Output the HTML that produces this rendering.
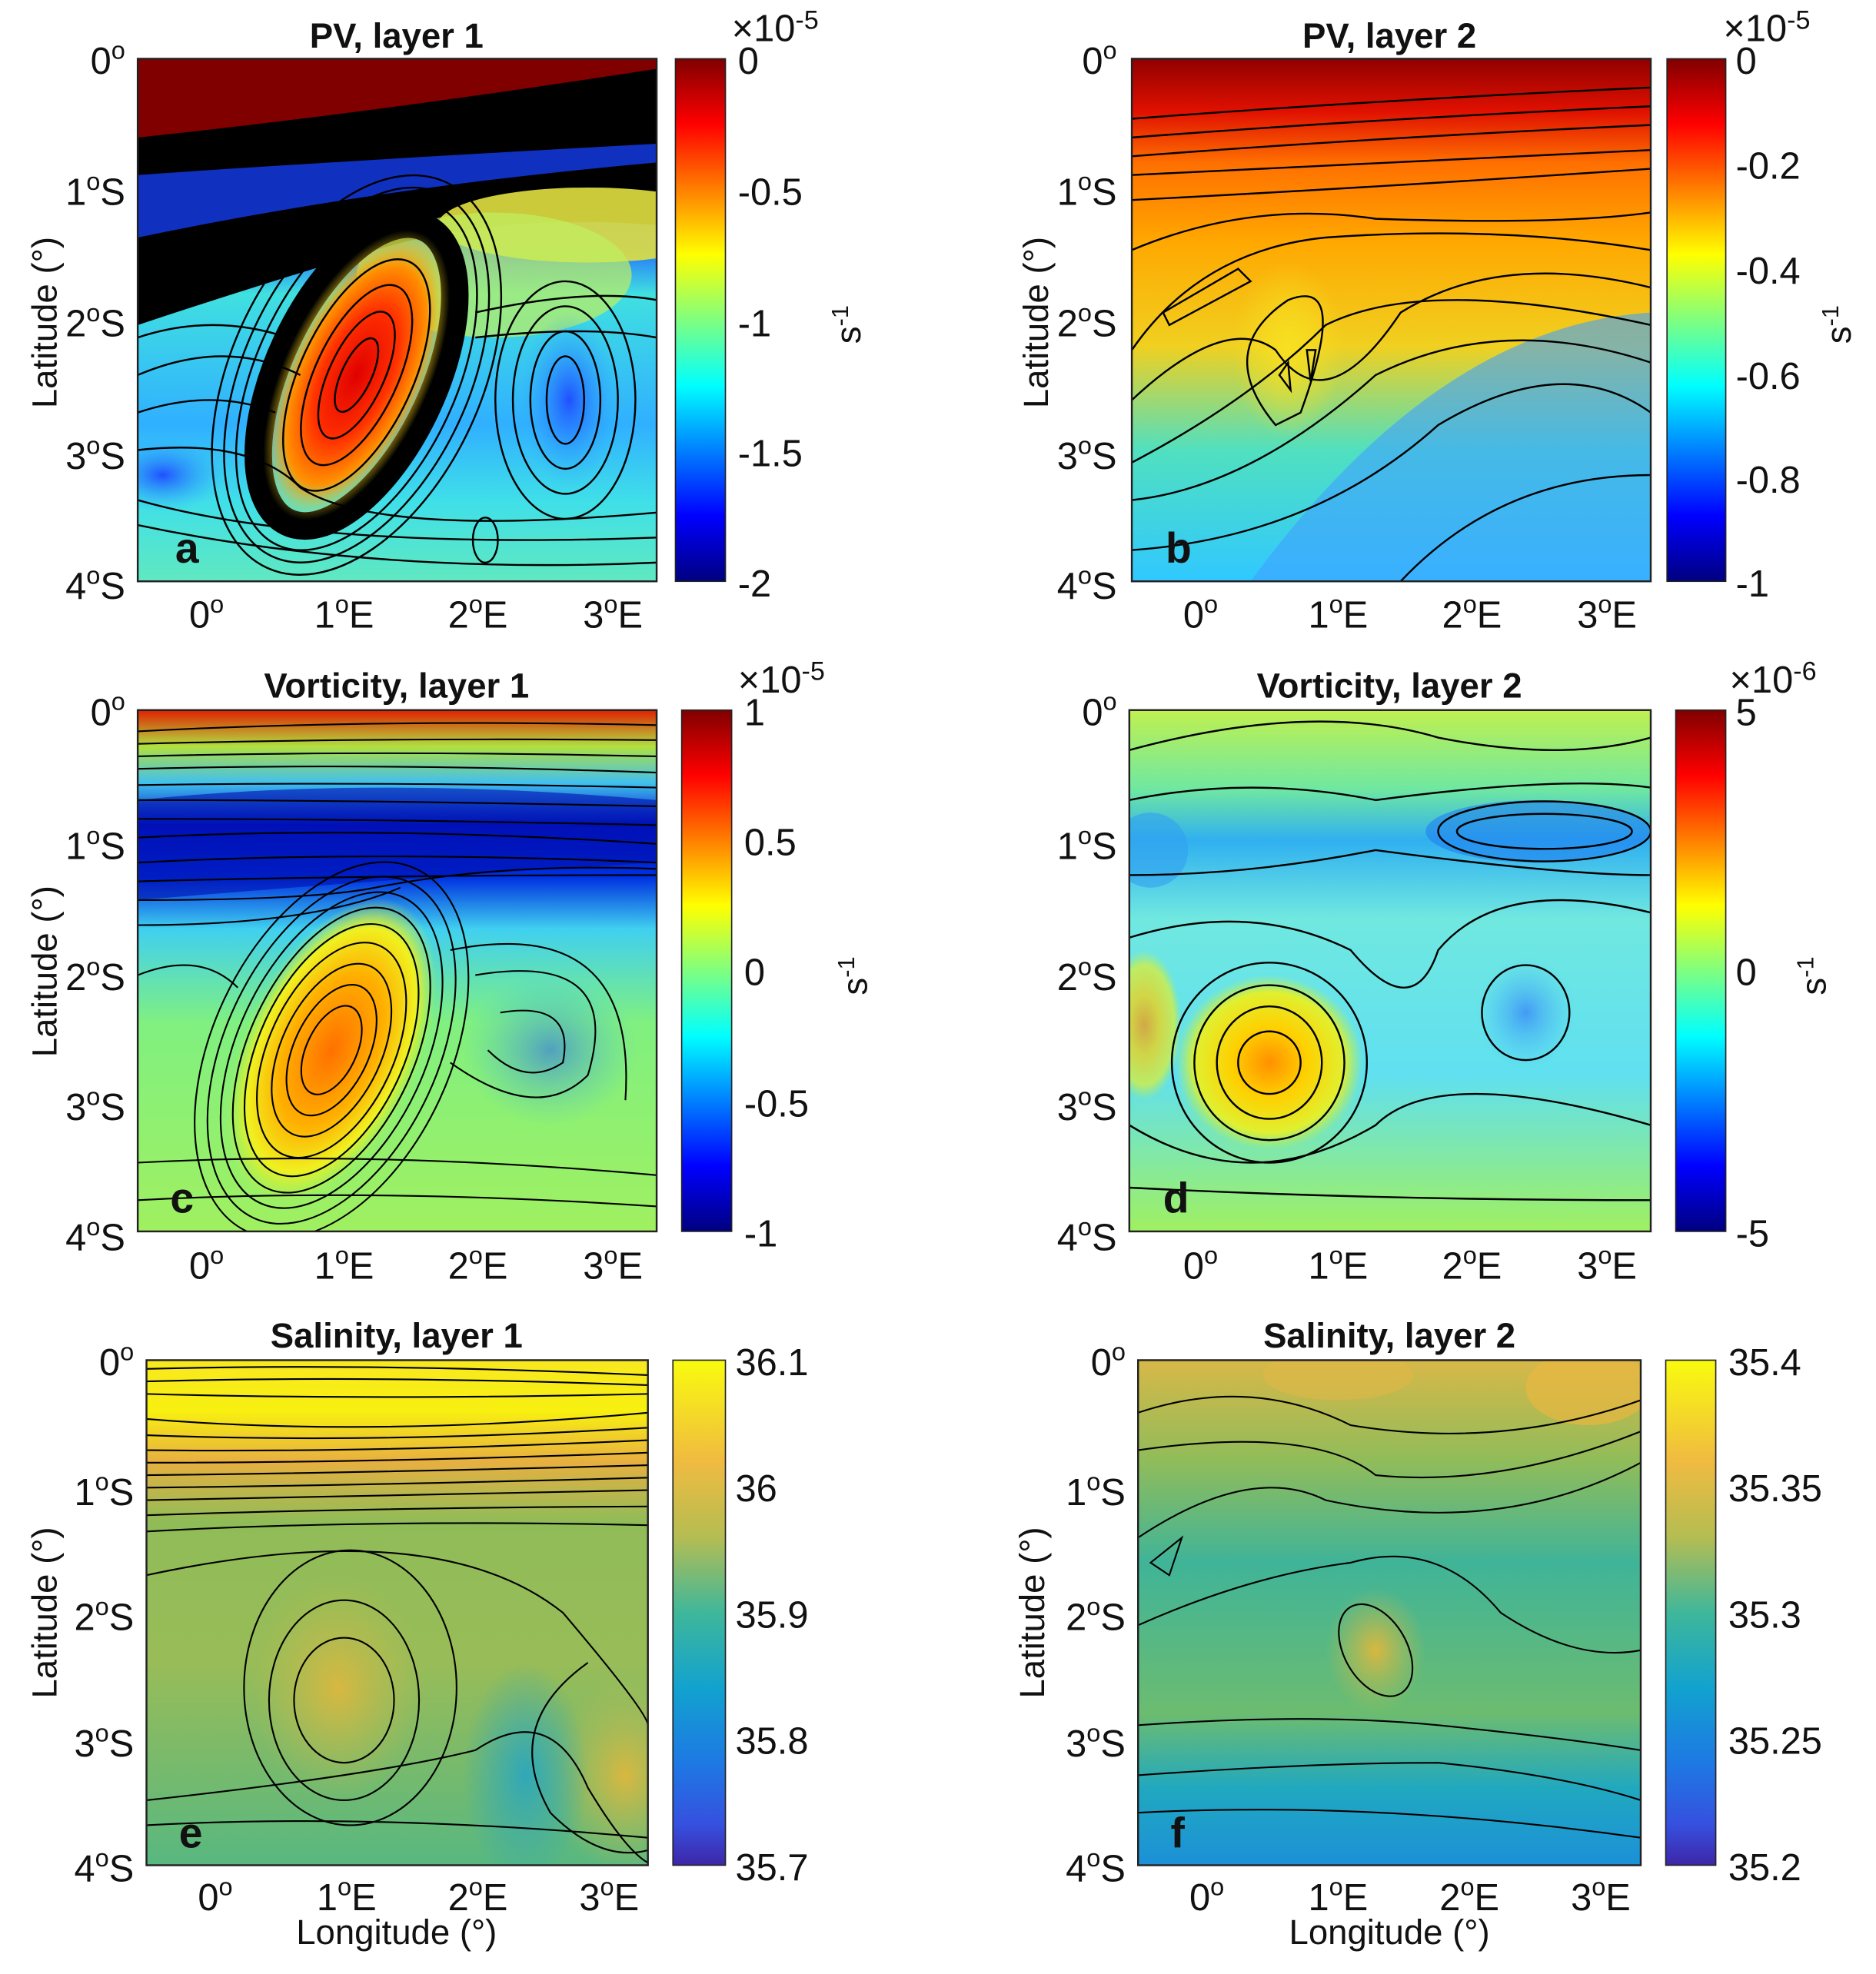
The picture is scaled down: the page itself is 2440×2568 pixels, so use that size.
<!DOCTYPE html>
<html><head><meta charset="utf-8"><style>html,body{margin:0;padding:0;background:#fff}svg{display:block}text{font-family:"Liberation Sans",sans-serif;fill:#111}</style></head><body>
<svg width="2440" height="2568" viewBox="0 0 1500 1579" xmlns="http://www.w3.org/2000/svg">
<defs>
<linearGradient id="jet" x1="0" y1="0" x2="0" y2="1"><stop offset="0" stop-color="#800000"/><stop offset=".125" stop-color="#ff0000"/><stop offset=".375" stop-color="#ffff00"/><stop offset=".625" stop-color="#00ffff"/><stop offset=".875" stop-color="#0000ff"/><stop offset="1" stop-color="#000080"/></linearGradient>
<linearGradient id="par" x1="0" y1="0" x2="0" y2="1"><stop offset="0" stop-color="#f9fb0e"/><stop offset=".2" stop-color="#f0bb40"/><stop offset=".35" stop-color="#b5bd52"/><stop offset=".5" stop-color="#3fb79a"/><stop offset=".65" stop-color="#12a2cf"/><stop offset=".8" stop-color="#1e78e4"/><stop offset=".92" stop-color="#3650df"/><stop offset="1" stop-color="#3e26a8"/></linearGradient>
<linearGradient id="ga" gradientUnits="userSpaceOnUse" x1="0" y1="47" x2="0" y2="465"><stop offset="0" stop-color="#8a0000"/><stop offset=".12" stop-color="#900000"/><stop offset=".2" stop-color="#1020b0"/><stop offset=".35" stop-color="#2060ff"/><stop offset=".45" stop-color="#40e0e0"/><stop offset=".7" stop-color="#30b0ff"/><stop offset=".85" stop-color="#40e0e8"/><stop offset="1" stop-color="#60e8c0"/></linearGradient>
<linearGradient id="gb" gradientUnits="userSpaceOnUse" x1="0" y1="47" x2="0" y2="465"><stop offset="0" stop-color="#900000"/><stop offset=".1" stop-color="#e01000"/><stop offset=".2" stop-color="#ff7000"/><stop offset=".35" stop-color="#ffa800"/><stop offset=".55" stop-color="#f0d020"/><stop offset=".75" stop-color="#50e0c0"/><stop offset="1" stop-color="#30c8ff"/></linearGradient>
<linearGradient id="gc" gradientUnits="userSpaceOnUse" x1="0" y1="568" x2="0" y2="985"><stop offset="0" stop-color="#e02000"/><stop offset=".07" stop-color="#b0e040"/><stop offset=".14" stop-color="#40c0f0"/><stop offset=".22" stop-color="#0010c0"/><stop offset=".32" stop-color="#0030e0"/><stop offset=".42" stop-color="#40d0f0"/><stop offset=".6" stop-color="#80f080"/><stop offset="1" stop-color="#a0f060"/></linearGradient>
<linearGradient id="gd" gradientUnits="userSpaceOnUse" x1="0" y1="568" x2="0" y2="985"><stop offset="0" stop-color="#c0f050"/><stop offset=".15" stop-color="#70e8a0"/><stop offset=".25" stop-color="#30b0f0"/><stop offset=".4" stop-color="#70e8e0"/><stop offset=".7" stop-color="#60e0f0"/><stop offset="1" stop-color="#a0f060"/></linearGradient>
<linearGradient id="ge" gradientUnits="userSpaceOnUse" x1="0" y1="1088" x2="0" y2="1492"><stop offset="0" stop-color="#f8e820"/><stop offset=".1" stop-color="#f8f010"/><stop offset=".2" stop-color="#e8b040"/><stop offset=".32" stop-color="#90bc58"/><stop offset=".6" stop-color="#98bc58"/><stop offset="1" stop-color="#58b880"/></linearGradient>
<linearGradient id="gf" gradientUnits="userSpaceOnUse" x1="0" y1="1088" x2="0" y2="1492"><stop offset="0" stop-color="#d8b848"/><stop offset=".2" stop-color="#90bc5a"/><stop offset=".4" stop-color="#40b498"/><stop offset=".7" stop-color="#6cbc70"/><stop offset=".85" stop-color="#20a8c0"/><stop offset="1" stop-color="#1c90d8"/></linearGradient>
<radialGradient id="ra"><stop offset="0" stop-color="#e00000"/><stop offset=".45" stop-color="#ff3000"/><stop offset=".75" stop-color="#ff9000"/><stop offset="1" stop-color="#f0e020" stop-opacity="0"/></radialGradient>
<radialGradient id="rc"><stop offset="0" stop-color="#ff7000"/><stop offset=".5" stop-color="#ffb000"/><stop offset=".8" stop-color="#f0f020"/><stop offset="1" stop-color="#c0f040" stop-opacity="0"/></radialGradient>
<radialGradient id="rd"><stop offset="0" stop-color="#ff9000"/><stop offset=".4" stop-color="#ffd000"/><stop offset=".8" stop-color="#e0f030"/><stop offset="1" stop-color="#c0f040" stop-opacity="0"/></radialGradient>
<radialGradient id="rb"><stop offset="0" stop-color="#2050ff"/><stop offset="1" stop-color="#30b0ff" stop-opacity="0"/></radialGradient>
<radialGradient id="ry"><stop offset="0" stop-color="#f8e020"/><stop offset="1" stop-color="#f8e020" stop-opacity="0"/></radialGradient>
<radialGradient id="rs"><stop offset="0" stop-color="#d8b840"/><stop offset="1" stop-color="#b8bc50" stop-opacity="0"/></radialGradient>
<radialGradient id="rt"><stop offset="0" stop-color="#30a8b8"/><stop offset="1" stop-color="#30a8b8" stop-opacity="0"/></radialGradient>
<clipPath id="ca"><rect x="110" y="47" width="415" height="418"/></clipPath>
<clipPath id="cb"><rect x="905" y="47" width="415" height="418"/></clipPath>
<clipPath id="cc"><rect x="110" y="568" width="415" height="417"/></clipPath>
<clipPath id="cd"><rect x="903" y="568" width="417" height="417"/></clipPath>
<clipPath id="ce"><rect x="117" y="1088" width="401" height="404"/></clipPath>
<clipPath id="cf"><rect x="910" y="1088" width="402" height="404"/></clipPath>
</defs>

<!-- Panel a -->
<g clip-path="url(#ca)">
<rect x="110" y="47" width="415" height="418" fill="url(#ga)"/>
<path d="M110 47 L525 47 L525 70 Q300 90 110 115 Z" fill="#800000"/>
<path d="M110 110 Q300 90 525 55 L525 180 Q400 170 300 200 Q200 230 110 260 Z" fill="#000"/>
<path d="M110 140 Q250 130 525 115 L525 130 Q300 150 110 190 Z" fill="#1030c0"/>
<ellipse cx="470" cy="180" rx="120" ry="30" fill="#e0e040" opacity=".9"/>
<ellipse cx="395" cy="220" rx="110" ry="50" fill="#c0f060" opacity=".7"/>
<g transform="rotate(25 285 300)"><ellipse cx="285" cy="300" rx="62" ry="130" fill="none" stroke="#000" stroke-width="22"/><ellipse cx="285" cy="300" rx="58" ry="125" fill="url(#ra)"/>
<g fill="none" stroke="#000" stroke-width="1.5"><ellipse cx="285" cy="300" rx="45" ry="100"/><ellipse cx="285" cy="300" rx="33" ry="78"/><ellipse cx="285" cy="300" rx="22" ry="55"/><ellipse cx="285" cy="300" rx="12" ry="32"/><ellipse cx="285" cy="300" rx="80" ry="150"/><ellipse cx="285" cy="300" rx="90" ry="160"/><ellipse cx="285" cy="300" rx="100" ry="170"/></g></g>
<ellipse cx="455" cy="320" rx="40" ry="70" fill="url(#rb)"/>
<ellipse cx="130" cy="380" rx="50" ry="30" fill="url(#rb)"/>
<g fill="none" stroke="#000" stroke-width="1.5"><ellipse cx="452" cy="320" rx="15" ry="35"/><ellipse cx="452" cy="320" rx="28" ry="55"/><ellipse cx="452" cy="320" rx="42" ry="75"/><ellipse cx="452" cy="320" rx="56" ry="95"/>
<path d="M110 400 Q250 440 525 430"/><path d="M110 420 Q300 460 525 450"/><path d="M110 300 Q180 270 240 300"/><path d="M110 330 Q170 310 220 330"/><path d="M110 270 Q170 250 230 270"/><path d="M110 360 Q200 350 240 390 Q300 430 525 410"/><path d="M380 250 Q470 230 525 240"/><path d="M380 270 Q470 260 525 270"/><ellipse cx="388" cy="432" rx="10" ry="18"/></g>
</g>
<rect x="110" y="47" width="415" height="418" fill="none" stroke="#222" stroke-width="1.5"/>
<text x="140" y="450" font-size="34" font-weight="bold" fill="#000">a</text>

<!-- Panel b -->
<g clip-path="url(#cb)">
<rect x="905" y="47" width="415" height="418" fill="url(#gb)"/>
<path d="M1000 465 Q1150 260 1320 250 L1320 465 Z" fill="#40a0ff" opacity=".6"/>
<ellipse cx="1030" cy="280" rx="45" ry="70" fill="url(#ry)"/>
<g fill="none" stroke="#000" stroke-width="1.5"><path d="M905 95 Q1100 80 1320 70"/><path d="M905 110 Q1100 95 1320 85"/><path d="M905 125 Q1100 110 1320 100"/><path d="M905 140 Q1100 130 1320 120"/><path d="M905 160 Q1100 150 1320 135"/><path d="M905 200 Q1000 160 1100 175 Q1250 180 1320 170"/><path d="M905 280 Q960 200 1060 190 Q1200 180 1320 200"/><path d="M905 320 Q980 250 1020 280 Q1060 340 1120 250 Q1200 200 1320 230"/><path d="M905 370 Q1000 320 1060 260 Q1140 220 1320 260"/><path d="M905 400 Q1000 390 1100 300 Q1200 250 1320 290"/><path d="M905 440 Q1050 430 1150 340 Q1250 280 1320 330"/><path d="M1120 465 Q1200 380 1320 380"/><path d="M930 250 L990 215 L1000 225 L935 260 Z"/><path d="M1023 300 L1030 290 L1032 312 Z"/><path d="M1045 280 L1052 280 L1048 305 Z"/><path d="M1020 340 Q970 280 1030 240 Q1080 220 1040 330 Z"/></g>
</g>
<rect x="905" y="47" width="415" height="418" fill="none" stroke="#222" stroke-width="1.5"/>
<text x="932" y="450" font-size="34" font-weight="bold" fill="#000">b</text>

<!-- Panel c -->
<g clip-path="url(#cc)">
<rect x="110" y="568" width="415" height="417" fill="url(#gc)"/>
<path d="M110 640 Q300 620 525 640 L525 690 Q350 700 110 720 Z" fill="#0010b0" opacity=".6"/>
<g transform="rotate(25 265 840)"><ellipse cx="265" cy="840" rx="70" ry="130" fill="url(#rc)"/>
<g fill="none" stroke="#000" stroke-width="1.3"><ellipse cx="265" cy="840" rx="20" ry="38"/><ellipse cx="265" cy="840" rx="30" ry="56"/><ellipse cx="265" cy="840" rx="40" ry="74"/><ellipse cx="265" cy="840" rx="50" ry="92"/><ellipse cx="265" cy="840" rx="58" ry="108"/><ellipse cx="265" cy="840" rx="66" ry="122"/><ellipse cx="265" cy="840" rx="75" ry="135"/><ellipse cx="265" cy="840" rx="85" ry="148"/><ellipse cx="265" cy="840" rx="95" ry="160"/></g></g>
<ellipse cx="440" cy="840" rx="70" ry="60" fill="url(#rb)" opacity=".5"/>
<g fill="none" stroke="#000" stroke-width="1.3"><path d="M110 585 Q300 575 525 580"/><path d="M110 595 Q300 590 525 592"/><path d="M110 605 Q300 600 525 605"/><path d="M110 615 Q300 610 525 618"/><path d="M110 628 Q300 625 525 630"/><path d="M110 640 Q300 640 525 645"/><path d="M110 655 Q300 655 525 660"/><path d="M110 670 Q300 660 525 675"/><path d="M110 690 Q300 680 525 690"/><path d="M110 705 Q300 700 525 700"/><path d="M110 720 Q250 720 300 710 Q400 690 525 695"/><path d="M110 740 Q250 740 320 710"/><path d="M110 780 Q160 760 190 790"/><path d="M110 930 Q300 920 525 940"/><path d="M110 960 Q300 950 525 965"/><path d="M380 780 Q500 760 470 860 Q430 900 360 850"/><path d="M360 760 Q510 730 500 880"/><path d="M400 810 Q460 800 450 850 Q420 870 390 840"/></g>
</g>
<rect x="110" y="568" width="415" height="417" fill="none" stroke="#222" stroke-width="1.5"/>
<text x="136" y="970" font-size="34" font-weight="bold" fill="#000">c</text>

<!-- Panel d -->
<g clip-path="url(#cd)">
<rect x="903" y="568" width="417" height="417" fill="url(#gd)"/>
<ellipse cx="1230" cy="665" rx="90" ry="25" fill="#2080f0" opacity=".6"/>
<ellipse cx="920" cy="680" rx="30" ry="30" fill="#30a0f0" opacity=".6"/>
<ellipse cx="1220" cy="810" rx="40" ry="45" fill="url(#rb)" opacity=".5"/>
<ellipse cx="1015" cy="850" rx="75" ry="70" fill="url(#rd)"/>
<ellipse cx="915" cy="820" rx="30" ry="60" fill="url(#rd)" opacity=".7"/>
<g fill="none" stroke="#000" stroke-width="1.5"><ellipse cx="1015" cy="850" rx="25" ry="25"/><ellipse cx="1015" cy="850" rx="42" ry="45"/><ellipse cx="1015" cy="850" rx="60" ry="62"/><ellipse cx="1015" cy="850" rx="78" ry="80"/><ellipse cx="1220" cy="810" rx="35" ry="38"/><ellipse cx="1235" cy="665" rx="70" ry="14"/><ellipse cx="1235" cy="665" rx="85" ry="24"/><path d="M903 600 Q1050 560 1150 590 Q1250 610 1320 590"/><path d="M903 640 Q1000 620 1100 640 Q1250 620 1320 630"/><path d="M903 700 Q1000 700 1100 680 Q1250 700 1320 700"/><path d="M903 750 Q1000 720 1080 760 Q1130 820 1150 760 Q1200 700 1320 730"/><path d="M903 900 Q1000 960 1100 900 Q1150 850 1320 900"/><path d="M903 950 Q1100 960 1320 960"/></g>
</g>
<rect x="903" y="568" width="417" height="417" fill="none" stroke="#222" stroke-width="1.5"/>
<text x="930" y="970" font-size="34" font-weight="bold" fill="#000">d</text>

<!-- Panel e -->
<g clip-path="url(#ce)">
<rect x="117" y="1088" width="401" height="404" fill="url(#ge)"/>
<ellipse cx="270" cy="1350" rx="70" ry="90" fill="url(#rs)"/>
<ellipse cx="500" cy="1420" rx="60" ry="80" fill="url(#rs)"/>
<ellipse cx="420" cy="1420" rx="50" ry="90" fill="url(#rt)"/>
<g fill="none" stroke="#000" stroke-width="1.3"><path d="M117 1095 Q300 1090 518 1100"/><path d="M117 1105 Q300 1100 518 1108"/><path d="M117 1115 Q300 1120 518 1115"/><path d="M117 1135 Q300 1150 518 1130"/><path d="M117 1148 Q300 1155 518 1142"/><path d="M117 1160 Q300 1162 518 1152"/><path d="M117 1170 Q300 1170 518 1162"/><path d="M117 1180 Q300 1178 518 1172"/><path d="M117 1190 Q300 1188 518 1182"/><path d="M117 1200 Q300 1196 518 1192"/><path d="M117 1212 Q300 1206 518 1205"/><path d="M117 1225 Q300 1215 518 1220"/><ellipse cx="275" cy="1360" rx="40" ry="50"/><ellipse cx="275" cy="1360" rx="60" ry="80"/><ellipse cx="280" cy="1350" rx="85" ry="110"/><path d="M117 1260 Q350 1210 450 1290 Q518 1370 518 1380"/><path d="M117 1440 Q300 1420 380 1400 Q440 1360 470 1430 Q500 1480 518 1490"/><path d="M117 1460 Q300 1450 518 1470"/><path d="M470 1330 Q400 1380 440 1450 Q480 1490 518 1480"/></g>
</g>
<rect x="117" y="1088" width="401" height="404" fill="none" stroke="#222" stroke-width="1.5"/>
<text x="143" y="1478" font-size="34" font-weight="bold" fill="#000">e</text>

<!-- Panel f -->
<g clip-path="url(#cf)">
<rect x="910" y="1088" width="402" height="404" fill="url(#gf)"/>
<ellipse cx="1100" cy="1320" rx="40" ry="50" fill="url(#rs)"/>
<ellipse cx="1270" cy="1110" rx="50" ry="30" fill="#e8b840" opacity=".7"/>
<ellipse cx="1070" cy="1100" rx="60" ry="20" fill="#e0b848" opacity=".6"/>
<g fill="none" stroke="#000" stroke-width="1.3"><path d="M910 1130 Q1000 1100 1080 1140 Q1200 1160 1312 1120"/><path d="M910 1160 Q1050 1140 1100 1180 Q1200 1190 1312 1145"/><path d="M910 1230 Q1000 1170 1060 1200 Q1200 1230 1312 1170"/><path d="M910 1300 Q1000 1260 1080 1250 Q1150 1230 1200 1290 Q1260 1330 1312 1320"/><ellipse cx="1100" cy="1320" rx="25" ry="40" transform="rotate(-30 1100 1320)"/><path d="M910 1380 Q1050 1370 1150 1380 Q1250 1390 1312 1400"/><path d="M910 1420 Q1050 1410 1150 1410 Q1250 1420 1312 1440"/><path d="M910 1450 Q1100 1440 1312 1470"/><path d="M920 1250 L945 1230 L935 1260 Z"/></g>
</g>
<rect x="910" y="1088" width="402" height="404" fill="none" stroke="#222" stroke-width="1.5"/>
<text x="936" y="1478" font-size="34" font-weight="bold" fill="#000">f</text>

<!-- colorbars -->
<rect x="540" y="47" width="40" height="418" fill="url(#jet)" stroke="#222"/>
<rect x="1333" y="47" width="47" height="418" fill="url(#jet)" stroke="#222"/>
<rect x="545" y="568" width="40" height="417" fill="url(#jet)" stroke="#222"/>
<rect x="1340" y="568" width="40" height="417" fill="url(#jet)" stroke="#222"/>
<rect x="538" y="1088" width="42" height="404" fill="url(#par)" stroke="#222"/>
<rect x="1332" y="1088" width="40" height="404" fill="url(#par)" stroke="#222"/>

<g font-size="30">
<text x="590" y="59">0</text><text x="590" y="164">-0.5</text><text x="590" y="269">-1</text><text x="590" y="373">-1.5</text><text x="590" y="477">-2</text>
<text x="1388" y="59">0</text><text x="1388" y="143">-0.2</text><text x="1388" y="227">-0.4</text><text x="1388" y="311">-0.6</text><text x="1388" y="394">-0.8</text><text x="1388" y="477">-1</text>
<text x="595" y="580">1</text><text x="595" y="684">0.5</text><text x="595" y="788">0</text><text x="595" y="893">-0.5</text><text x="595" y="997">-1</text>
<text x="1388" y="580">5</text><text x="1388" y="788">0</text><text x="1388" y="997">-5</text>
<text x="588" y="1100">36.1</text><text x="588" y="1201">36</text><text x="588" y="1302">35.9</text><text x="588" y="1403">35.8</text><text x="588" y="1504">35.7</text>
<text x="1382" y="1100">35.4</text><text x="1382" y="1201">35.35</text><text x="1382" y="1302">35.3</text><text x="1382" y="1403">35.25</text><text x="1382" y="1504">35.2</text>
<text x="585" y="33">×10<tspan dy="-10" font-size="21">-5</tspan></text>
<text x="1378" y="33">×10<tspan dy="-10" font-size="21">-5</tspan></text>
<text x="590" y="554">×10<tspan dy="-10" font-size="21">-5</tspan></text>
<text x="1383" y="554">×10<tspan dy="-10" font-size="21">-6</tspan></text>
</g>
<g font-size="28">
<text transform="translate(688 275) rotate(-90)">s<tspan dy="-10" font-size="19">-1</tspan></text>
<text transform="translate(1480 275) rotate(-90)">s<tspan dy="-10" font-size="19">-1</tspan></text>
<text transform="translate(693 796) rotate(-90)">s<tspan dy="-10" font-size="19">-1</tspan></text>
<text transform="translate(1460 796) rotate(-90)">s<tspan dy="-10" font-size="19">-1</tspan></text>
</g>

<!-- titles -->
<g font-size="28" font-weight="bold" text-anchor="middle">
<text x="317" y="38" fill="#000">PV, layer 1</text><text x="1111" y="38" fill="#000">PV, layer 2</text>
<text x="317" y="558" fill="#000">Vorticity, layer 1</text><text x="1111" y="558" fill="#000">Vorticity, layer 2</text>
<text x="317" y="1078" fill="#000">Salinity, layer 1</text><text x="1111" y="1078" fill="#000">Salinity, layer 2</text>
</g>

<!-- y ticks -->
<g font-size="30" text-anchor="end">
<text x="100" y="59">0<tspan dy="-12" font-size="20">o</tspan></text><text x="100" y="164">1<tspan dy="-12" font-size="20">o</tspan><tspan dy="12">S</tspan></text><text x="100" y="269">2<tspan dy="-12" font-size="20">o</tspan><tspan dy="12">S</tspan></text><text x="100" y="375">3<tspan dy="-12" font-size="20">o</tspan><tspan dy="12">S</tspan></text><text x="100" y="479">4<tspan dy="-12" font-size="20">o</tspan><tspan dy="12">S</tspan></text>
<text x="893" y="59">0<tspan dy="-12" font-size="20">o</tspan></text><text x="893" y="164">1<tspan dy="-12" font-size="20">o</tspan><tspan dy="12">S</tspan></text><text x="893" y="269">2<tspan dy="-12" font-size="20">o</tspan><tspan dy="12">S</tspan></text><text x="893" y="375">3<tspan dy="-12" font-size="20">o</tspan><tspan dy="12">S</tspan></text><text x="893" y="479">4<tspan dy="-12" font-size="20">o</tspan><tspan dy="12">S</tspan></text>
<text x="100" y="580">0<tspan dy="-12" font-size="20">o</tspan></text><text x="100" y="687">1<tspan dy="-12" font-size="20">o</tspan><tspan dy="12">S</tspan></text><text x="100" y="792">2<tspan dy="-12" font-size="20">o</tspan><tspan dy="12">S</tspan></text><text x="100" y="896">3<tspan dy="-12" font-size="20">o</tspan><tspan dy="12">S</tspan></text><text x="100" y="1000">4<tspan dy="-12" font-size="20">o</tspan><tspan dy="12">S</tspan></text>
<text x="893" y="580">0<tspan dy="-12" font-size="20">o</tspan></text><text x="893" y="687">1<tspan dy="-12" font-size="20">o</tspan><tspan dy="12">S</tspan></text><text x="893" y="792">2<tspan dy="-12" font-size="20">o</tspan><tspan dy="12">S</tspan></text><text x="893" y="896">3<tspan dy="-12" font-size="20">o</tspan><tspan dy="12">S</tspan></text><text x="893" y="1000">4<tspan dy="-12" font-size="20">o</tspan><tspan dy="12">S</tspan></text>
<text x="107" y="1100">0<tspan dy="-12" font-size="20">o</tspan></text><text x="107" y="1204">1<tspan dy="-12" font-size="20">o</tspan><tspan dy="12">S</tspan></text><text x="107" y="1304">2<tspan dy="-12" font-size="20">o</tspan><tspan dy="12">S</tspan></text><text x="107" y="1405">3<tspan dy="-12" font-size="20">o</tspan><tspan dy="12">S</tspan></text><text x="107" y="1505">4<tspan dy="-12" font-size="20">o</tspan><tspan dy="12">S</tspan></text>
<text x="900" y="1100">0<tspan dy="-12" font-size="20">o</tspan></text><text x="900" y="1204">1<tspan dy="-12" font-size="20">o</tspan><tspan dy="12">S</tspan></text><text x="900" y="1304">2<tspan dy="-12" font-size="20">o</tspan><tspan dy="12">S</tspan></text><text x="900" y="1405">3<tspan dy="-12" font-size="20">o</tspan><tspan dy="12">S</tspan></text><text x="900" y="1505">4<tspan dy="-12" font-size="20">o</tspan><tspan dy="12">S</tspan></text>
</g>

<!-- x ticks -->
<g font-size="30" text-anchor="middle">
<text x="165" y="502">0<tspan dy="-12" font-size="20">o</tspan></text><text x="275" y="502">1<tspan dy="-12" font-size="20">o</tspan><tspan dy="12">E</tspan></text><text x="382" y="502">2<tspan dy="-12" font-size="20">o</tspan><tspan dy="12">E</tspan></text><text x="490" y="502">3<tspan dy="-12" font-size="20">o</tspan><tspan dy="12">E</tspan></text>
<text x="960" y="502">0<tspan dy="-12" font-size="20">o</tspan></text><text x="1070" y="502">1<tspan dy="-12" font-size="20">o</tspan><tspan dy="12">E</tspan></text><text x="1177" y="502">2<tspan dy="-12" font-size="20">o</tspan><tspan dy="12">E</tspan></text><text x="1285" y="502">3<tspan dy="-12" font-size="20">o</tspan><tspan dy="12">E</tspan></text>
<text x="165" y="1023">0<tspan dy="-12" font-size="20">o</tspan></text><text x="275" y="1023">1<tspan dy="-12" font-size="20">o</tspan><tspan dy="12">E</tspan></text><text x="382" y="1023">2<tspan dy="-12" font-size="20">o</tspan><tspan dy="12">E</tspan></text><text x="490" y="1023">3<tspan dy="-12" font-size="20">o</tspan><tspan dy="12">E</tspan></text>
<text x="960" y="1023">0<tspan dy="-12" font-size="20">o</tspan></text><text x="1070" y="1023">1<tspan dy="-12" font-size="20">o</tspan><tspan dy="12">E</tspan></text><text x="1177" y="1023">2<tspan dy="-12" font-size="20">o</tspan><tspan dy="12">E</tspan></text><text x="1285" y="1023">3<tspan dy="-12" font-size="20">o</tspan><tspan dy="12">E</tspan></text>
<text x="172" y="1528">0<tspan dy="-12" font-size="20">o</tspan></text><text x="277" y="1528">1<tspan dy="-12" font-size="20">o</tspan><tspan dy="12">E</tspan></text><text x="382" y="1528">2<tspan dy="-12" font-size="20">o</tspan><tspan dy="12">E</tspan></text><text x="487" y="1528">3<tspan dy="-12" font-size="20">o</tspan><tspan dy="12">E</tspan></text>
<text x="965" y="1528">0<tspan dy="-12" font-size="20">o</tspan></text><text x="1070" y="1528">1<tspan dy="-12" font-size="20">o</tspan><tspan dy="12">E</tspan></text><text x="1175" y="1528">2<tspan dy="-12" font-size="20">o</tspan><tspan dy="12">E</tspan></text><text x="1280" y="1528">3<tspan dy="-12" font-size="20">o</tspan><tspan dy="12">E</tspan></text>
<text x="317" y="1555" font-size="28">Longitude (°)</text><text x="1111" y="1555" font-size="28">Longitude (°)</text>
<text transform="translate(45 258) rotate(-90)" font-size="28">Latitude (°)</text>
<text transform="translate(838 258) rotate(-90)" font-size="28">Latitude (°)</text>
<text transform="translate(45 777) rotate(-90)" font-size="28">Latitude (°)</text>
<text transform="translate(45 1290) rotate(-90)" font-size="28">Latitude (°)</text>
<text transform="translate(835 1290) rotate(-90)" font-size="28">Latitude (°)</text>
</g>
</svg>
</body></html>
